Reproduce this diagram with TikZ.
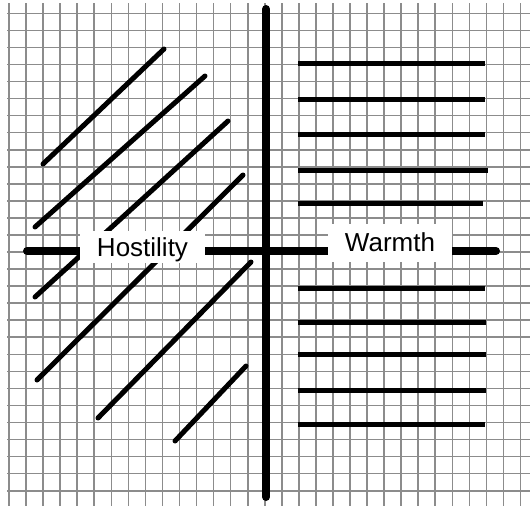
\documentclass[tikz,border=0pt]{standalone}
\usepackage{fontspec}
\setmainfont{Liberation Sans}
\tikzset{
  gridline/.style={draw=gray!90, line width=1.6pt},
  hatch/.style={line width=5pt, line cap=round},
  axisline/.style={line width=8pt, line cap=round},
  axislabel/.style={fill=white, inner sep=0pt, font=\fontsize{26}{30}\selectfont}
}
\begin{document}
\begin{tikzpicture}[x=1pt,y=-1pt]
\useasboundingbox (0,0) rectangle (530,506);
\fill[white] (0,0) rectangle (530,506);

\foreach \i in {0,...,30}
  \draw[gridline] ({9+17.05*\i},3) -- ({9+17.05*\i},506);
\foreach \j in {0,...,28}
  \draw[gridline] (7,{13.3+17.05*\j}) -- (530,{13.3+17.05*\j});

\draw[hatch] (43,164) -- (164,49);
\draw[hatch] (35,227) -- (205,76);
\draw[hatch] (35,297) -- (228,121);
\draw[hatch] (37,380) -- (243,175);
\draw[hatch] (98,418) -- (251,262);
\draw[hatch] (175,441) -- (246,366);

\foreach \y/\xe in {63/485,99/485,134/485,170/488,203/483,288/485,322/486,354/486,390/486,424/485}
  \draw[hatch, line cap=butt] (298,\y) -- (\xe,\y);

\coordinate (top) at (266,9);
\coordinate (bottom) at (266,497);
\coordinate (left) at (27,251);
\coordinate (right) at (496,251);
\draw[axisline] (top) -- (bottom);
\draw[axisline] (left) -- (right);

\node[axislabel, minimum width=125pt, text height=25.5pt, text depth=6.5pt] (hostility) at (142.5,247) {Hostility};
\node[axislabel, minimum width=124pt, text height=27.7pt, text depth=10.3pt] (warmth) at (390,243) {Warmth};
\end{tikzpicture}
\end{document}
